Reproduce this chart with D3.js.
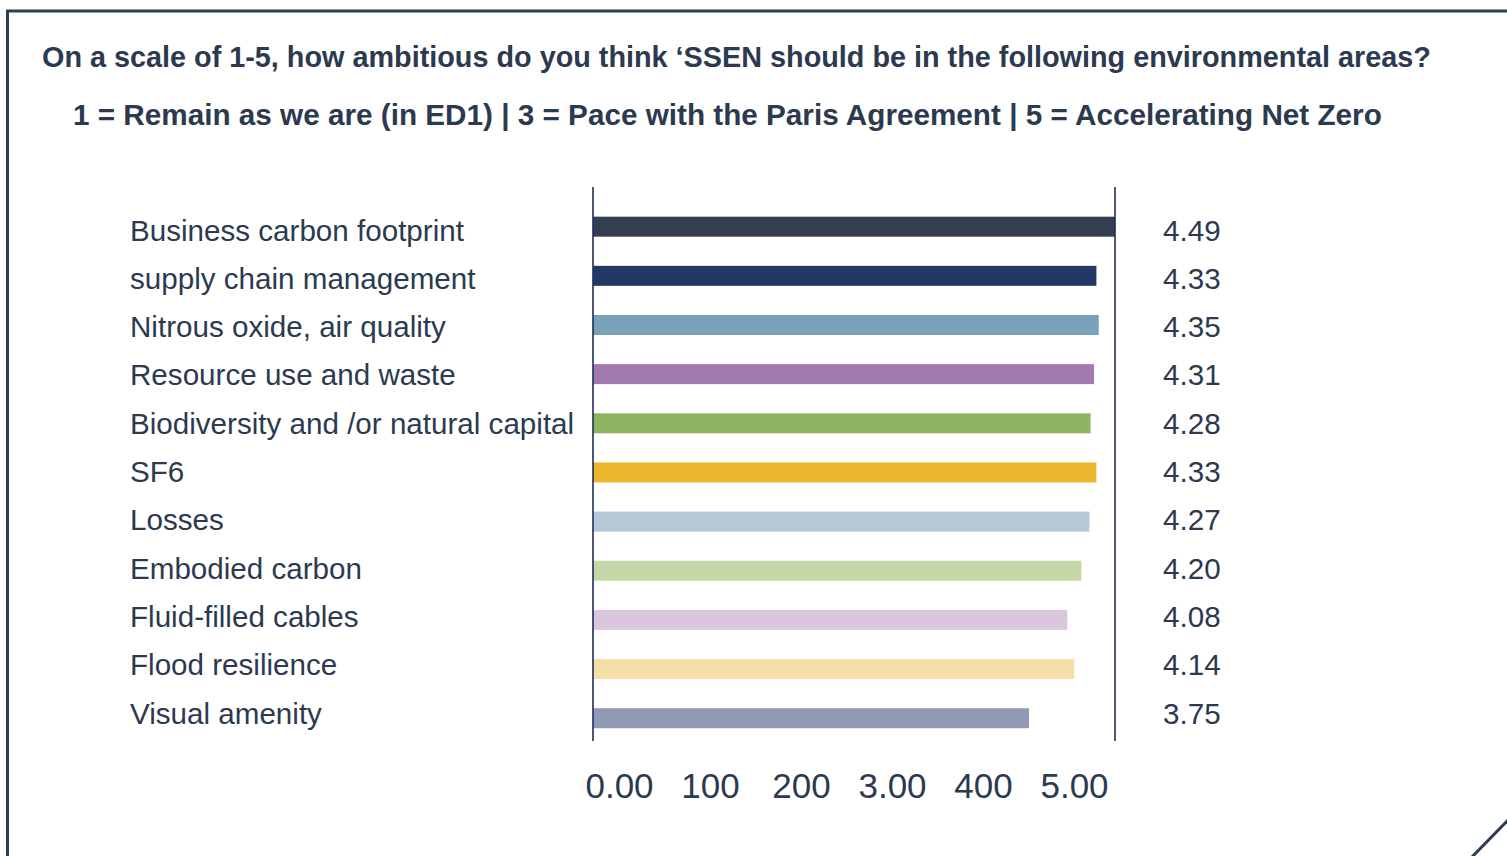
<!DOCTYPE html>
<html>
<head>
<meta charset="utf-8">
<script src="https://cdn.jsdelivr.net/npm/d3@7"></script>
<style>
  html, body { margin: 0; padding: 0; background: #ffffff; overflow: hidden; }
  svg { display: block; }
  text { font-family: "Liberation Sans", Arial, Helvetica, sans-serif; fill: #2b3a4f; }
</style>
</head>
<body>
<svg id="chart" width="1507" height="856"></svg>
<script>
// Survey areas, mean ambition score (1-5) and bar colours
const categories = [
  "Business carbon footprint",
  "supply chain management",
  "Nitrous oxide, air quality",
  "Resource use and waste",
  "Biodiversity and /or natural capital",
  "SF6",
  "Losses",
  "Embodied carbon",
  "Fluid-filled cables",
  "Flood resilience",
  "Visual amenity"
];
const scores = [4.49, 4.33, 4.35, 4.31, 4.28, 4.33, 4.27, 4.20, 4.08, 4.14, 3.75];
const barColors = [
  "#333f50", "#223a63", "#79a1ba", "#a279b0", "#8fb460", "#ebb72d",
  "#b4c8d8", "#c5d6a7", "#dbc5df", "#f5dfa9", "#9199b4"
];
const tickLabels = ["0.00", "100", "200", "3.00", "400", "5.00"];

const titleText = "On a scale of 1-5, how ambitious do you think \u2018SSEN should be in the following environmental areas?";
const subtitleText = "1 = Remain as we are (in ED1) | 3 = Pace with the Paris Agreement | 5 = Accelerating Net Zero";

const svg = d3.select("#chart");
const ink = "#2b3a4f";
const ruleColor = "#1f2e58";

// Card frame: top and left edges plus the clipped bottom-right corner
svg.append("path")
  .attr("d", "M1510,11 H7.5 V860")
  .attr("fill", "none")
  .attr("stroke", "#2c3e50")
  .attr("stroke-width", 3);
svg.append("line")
  .attr("x1", 1471).attr("y1", 858)
  .attr("x2", 1509).attr("y2", 819)
  .attr("stroke", "#2c3e50")
  .attr("stroke-width", 3);

// Headings
svg.append("text")
  .attr("x", 42).attr("y", 66.5)
  .attr("font-size", 28.8).attr("font-weight", "bold")
  .text(titleText);
svg.append("text")
  .attr("x", 73).attr("y", 125)
  .attr("font-size", 29.7).attr("font-weight", "bold")
  .text(subtitleText);

// Scales: bar rows and the slightly tighter text rows
const plotTop = 187, plotBottom = 741;
const x = d3.scaleLinear()
  .domain([0, d3.max(scores)])
  .range([593, 1115]);
const y = d3.scaleBand()
  .domain(categories)
  .range([202.1, 742.8]);
const yText = d3.scaleBand()
  .domain(categories)
  .range([205.9, 737.2]);
const barH = 20;
const rows = categories.map((c, i) => ({ name: c, value: scores[i], color: barColors[i] }));

// Bars
svg.append("g").selectAll("rect")
  .data(rows)
  .join("rect")
  .attr("x", x(0))
  .attr("y", d => y(d.name) + y.bandwidth() / 2 - barH / 2)
  .attr("width", d => x(d.value) - x(0))
  .attr("height", barH)
  .attr("fill", d => d.color);

// Vertical rules at both ends of the value range
svg.append("g").selectAll("line")
  .data([0, d3.max(scores)])
  .join("line")
  .attr("x1", d => x(d)).attr("x2", d => x(d))
  .attr("y1", plotTop).attr("y2", plotBottom)
  .attr("stroke", ruleColor)
  .attr("stroke-width", 1.6);

// Category labels (left axis, left aligned)
const yAxis = svg.append("g")
  .attr("transform", `translate(${x(0)},0)`)
  .call(d3.axisLeft(yText).tickSize(0).tickPadding(0));
yAxis.select(".domain").remove();
yAxis.selectAll("text")
  .attr("x", 130 - x(0))
  .attr("dy", 10.5)
  .attr("text-anchor", "start")
  .attr("font-size", 29.6)
  .attr("fill", ink);

// Value labels
svg.append("g").selectAll("text")
  .data(rows)
  .join("text")
  .attr("x", 1163)
  .attr("y", d => yText(d.name) + yText.bandwidth() / 2 + 10.5)
  .attr("font-size", 29.6)
  .text(d => d3.format(".2f")(d.value));

// Bottom tick labels
const tickScale = d3.scalePoint()
  .domain(tickLabels)
  .range([619, 1074]);
const xAxis = svg.append("g")
  .attr("transform", "translate(0,773)")
  .call(d3.axisBottom(tickScale).tickSize(0).tickPadding(0));
xAxis.select(".domain").remove();
xAxis.selectAll("text")
  .attr("font-size", 35)
  .attr("font-family", "\"Liberation Sans\", Arial, Helvetica, sans-serif")
  .attr("fill", ink);
</script>
</body>
</html>
